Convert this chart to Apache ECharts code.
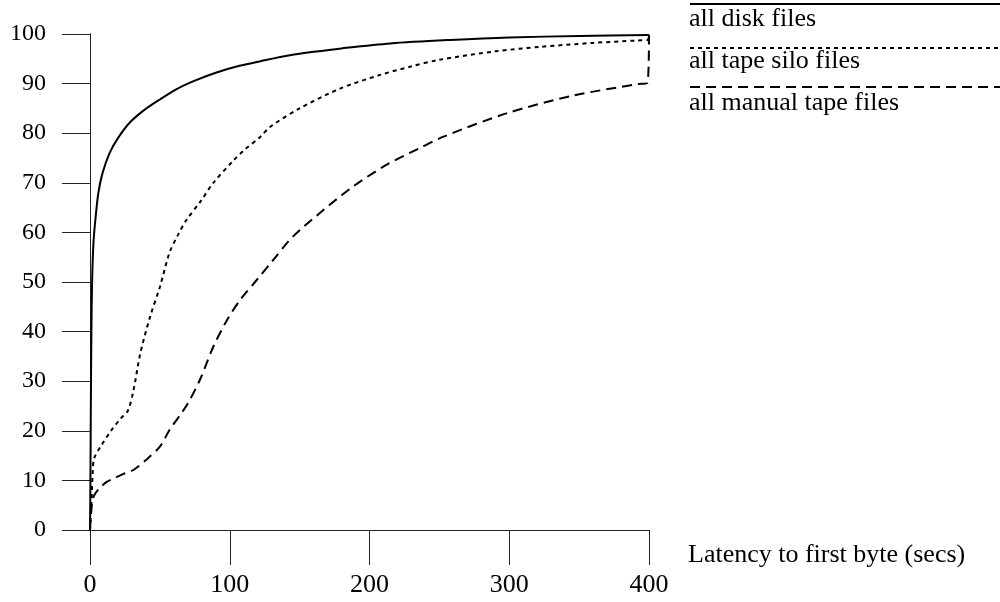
<!DOCTYPE html>
<html>
<head>
<meta charset="utf-8">
<script src="https://cdn.jsdelivr.net/npm/echarts@6/dist/echarts.min.js"></script>
<style>
html,body{margin:0;padding:0;background:#fff;}
#chart{width:1000px;height:602px;}
</style>
</head>
<body>
<div id="chart"></div>
<script>
const xTicks = [0, 100, 200, 300, 400];
const yTicks = [0, 10, 20, 30, 40, 50, 60, 70, 80, 90, 100];
const seriesNames = ['all disk files', 'all tape silo files', 'all manual tape files'];
const xAxisTitle = 'Latency to first byte (secs)';

const diskFiles = [[0,0],[0.3,10],[0.6,25],[1,40],[1.5,50],[2.5,58],[4,63],[6,68],[9,72],[14,76],[20,79],[28,82],[38,84.5],[50,86.8],[62,88.9],[75,90.6],[90,92.2],[107,93.6],[125,94.7],[143,95.7],[160,96.4],[180,97.1],[215,98.1],[258,98.8],[300,99.3],[350,99.6],[400,99.8]];
const siloFiles = [[0,0],[1,5],[2,12],[3,14.5],[8,17],[15,20],[22,22.5],[27,24],[31,28],[36,35.6],[43,43],[50,49],[57,56],[63,59.5],[69,62.5],[79,66.2],[88,69.9],[103,74.6],[110,76.5],[122,79.3],[129,81.3],[150,85],[179,89],[207,91.7],[229,93.4],[250,94.8],[290,96.5],[322,97.4],[360,98.2],[392,98.7],[399,98.8],[400,100]];
const manualFiles = [[0,0],[1.2,4.7],[3,7],[7,8.5],[12,9.7],[17,10.4],[24,11.3],[31,12.1],[40,14.1],[50,16.8],[57,20.2],[64,23],[70,25.5],[79,30.5],[88,36.8],[98,42.3],[108,46.6],[119,50.3],[131,54.4],[145,59.1],[167,64.5],[188,69.2],[212,73.6],[236,77],[253,79.3],[298,84],[346,87.6],[392,89.9],[399,90.2],[400,100]];

const FONT = '"Liberation Serif", "Times New Roman", serif';
const chart = echarts.init(document.getElementById('chart'), null, {renderer: 'canvas'});
const axisCol = '#222';
const lineStyles = [
  {type: 'solid', width: 2},
  {type: [4, 4], width: 2},
  {type: [10, 6], width: 2}
];
const dataSets = [diskFiles, siloFiles, manualFiles];

const legendGraphics = [];
const legendLineY = [4, 48, 87];
const legendTextY = [19.5, 61, 103];
seriesNames.forEach((n, i) => {
  legendGraphics.push({
    type: 'line', shape: {x1: 690, y1: legendLineY[i], x2: 1000, y2: legendLineY[i]},
    style: {stroke: '#000', lineWidth: 2, lineDash: i === 0 ? null : lineStyles[i].type}
  });
  legendGraphics.push({
    type: 'text', x: 689, y: legendTextY[i],
    style: {text: n, font: '26px ' + FONT, fill: '#000', verticalAlign: 'middle', align: 'left'}
  });
});
legendGraphics.push({
  type: 'text', x: 688, y: 555,
  style: {text: xAxisTitle, font: '26px ' + FONT, fill: '#000', verticalAlign: 'middle', align: 'left'}
});

chart.setOption({
  animation: false,
  backgroundColor: '#fff',
  grid: {left: 90, right: 351, top: 34, bottom: 72, containLabel: false},
  xAxis: [{
    type: 'value', min: xTicks[0], max: xTicks[xTicks.length - 1], interval: 100,
    axisLine: {show: true, lineStyle: {color: axisCol, width: 1}},
    axisTick: {show: true, length: 35, lineStyle: {color: axisCol, width: 1}},
    axisLabel: {margin: 42, color: '#000', fontSize: 26, fontFamily: FONT, verticalAlign: 'top'},
    splitLine: {show: false}
  }, {
    type: 'value', position: 'top', min: xTicks[0], max: xTicks[xTicks.length - 1],
    axisLine: {show: true, lineStyle: {color: axisCol, width: 1}},
    axisTick: {show: false}, axisLabel: {show: false}, splitLine: {show: false}
  }],
  yAxis: [{
    type: 'value', min: yTicks[0], max: yTicks[yTicks.length - 1], interval: 10,
    axisLine: {show: true, lineStyle: {color: axisCol, width: 1}},
    axisTick: {show: true, length: 28, lineStyle: {color: axisCol, width: 1}},
    axisLabel: {margin: 44, color: '#000', fontSize: 24, fontFamily: FONT},
    splitLine: {show: false}
  }, {
    type: 'value', position: 'right', min: yTicks[0], max: yTicks[yTicks.length - 1],
    axisLine: {show: true, lineStyle: {color: axisCol, width: 1}},
    axisTick: {show: false}, axisLabel: {show: false}, splitLine: {show: false}
  }],
  series: dataSets.map((d, i) => ({
    name: seriesNames[i], type: 'line', data: d, smooth: 0.3, showSymbol: false,
    lineStyle: {color: '#000', width: lineStyles[i].width, type: lineStyles[i].type},
    clip: true
  })),
  graphic: legendGraphics
});
</script>
</body>
</html>
